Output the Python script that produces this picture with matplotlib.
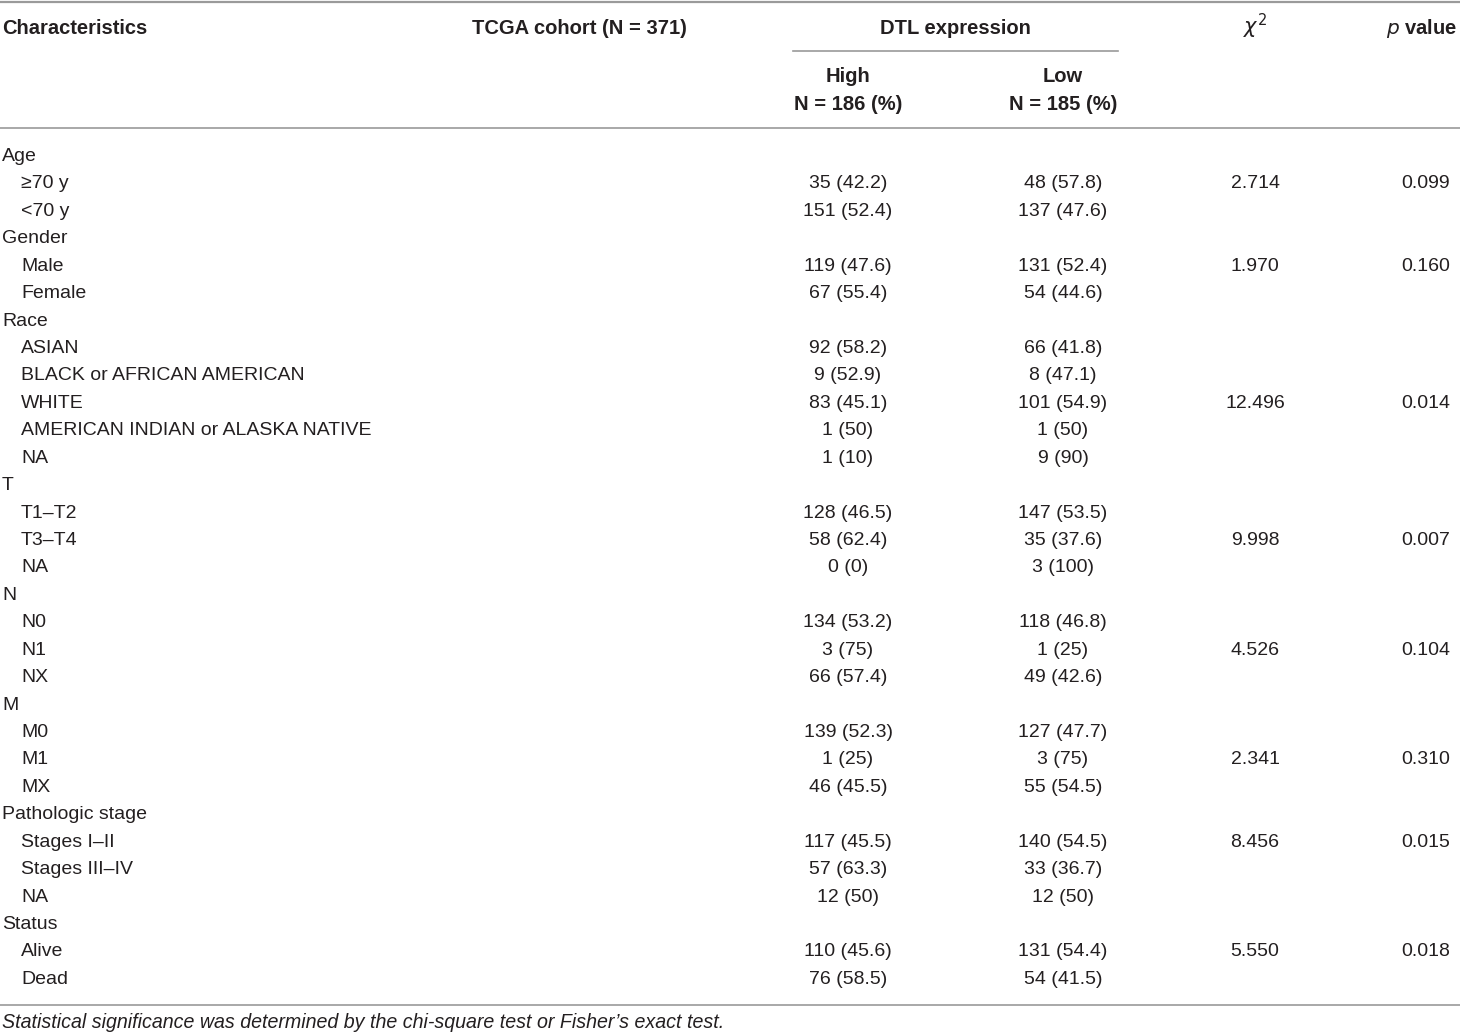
import matplotlib
matplotlib.use("Agg")
import matplotlib.pyplot as plt

# table content
groups = ["Age", "Gender", "Race", "T", "N", "M", "Pathologic stage", "Status"]
sub_labels = [
    ["\u226570 y", "<70 y"],
    ["Male", "Female"],
    ["ASIAN", "BLACK or AFRICAN AMERICAN", "WHITE", "AMERICAN INDIAN or ALASKA NATIVE", "NA"],
    ["T1\u2013T2", "T3\u2013T4", "NA"],
    ["N0", "N1", "NX"],
    ["M0", "M1", "MX"],
    ["Stages I\u2013II", "Stages III\u2013IV", "NA"],
    ["Alive", "Dead"],
]
high = [
    ["35 (42.2)", "151 (52.4)"],
    ["119 (47.6)", "67 (55.4)"],
    ["92 (58.2)", "9 (52.9)", "83 (45.1)", "1 (50)", "1 (10)"],
    ["128 (46.5)", "58 (62.4)", "0 (0)"],
    ["134 (53.2)", "3 (75)", "66 (57.4)"],
    ["139 (52.3)", "1 (25)", "46 (45.5)"],
    ["117 (45.5)", "57 (63.3)", "12 (50)"],
    ["110 (45.6)", "76 (58.5)"],
]
low = [
    ["48 (57.8)", "137 (47.6)"],
    ["131 (52.4)", "54 (44.6)"],
    ["66 (41.8)", "8 (47.1)", "101 (54.9)", "1 (50)", "9 (90)"],
    ["147 (53.5)", "35 (37.6)", "3 (100)"],
    ["118 (46.8)", "1 (25)", "49 (42.6)"],
    ["127 (47.7)", "3 (75)", "55 (54.5)"],
    ["140 (54.5)", "33 (36.7)", "12 (50)"],
    ["131 (54.4)", "54 (41.5)"],
]
chi2 = ["2.714", "1.970", "12.496", "9.998", "4.526", "2.341", "8.456", "5.550"]
pvals = ["0.099", "0.160", "0.014", "0.007", "0.104", "0.310", "0.015", "0.018"]
stat_row = [0, 0, 2, 1, 1, 1, 0, 0]   # which sub row carries the statistics

note = "Statistical significance was determined by the chi-square test or Fisher\u2019s exact test."

W, H = 1460, 1033
fig = plt.figure(figsize=(W / 100, H / 100), dpi=100)
ax = fig.add_axes([0, 0, 1, 1])
ax.set_xlim(0, W)
ax.set_ylim(H, 0)
ax.axis("off")

plt.rcParams["font.family"] = ["Liberation Sans", "DejaVu Sans"]
fs = 14
fs_hdr = 14.5
col = "#231f20"
line_col = "#9a9a9a"

x_lab, x_sub = 2, 21
x_high, x_low, x_chi, x_p = 848, 1063, 1255, 1450

# rules
ax.plot([0, W], [2, 2], color=line_col, lw=1.6)
ax.plot([793, 1118], [51, 51], color=line_col, lw=1.2)
ax.plot([0, W], [128, 128], color=line_col, lw=1.2)
ax.plot([0, W], [1005, 1005], color=line_col, lw=1.2)

# header
hdr = dict(fontsize=fs_hdr, color=col, fontweight="bold", va="center")
ax.text(x_lab, 28, "Characteristics", ha="left", **hdr)
ax.text(472, 28, "TCGA cohort (N = 371)", ha="left", **hdr)
ax.text(955, 28, "DTL expression", ha="center", **hdr)
ax.text(x_chi, 26, r"$\chi^2$", ha="center", fontsize=15, color=col, va="center")
ax.text(1457, 28, r"$\mathit{p}$" + " value", ha="right", **hdr)
ax.text(x_high, 77, "High", ha="center", **hdr)
ax.text(x_high, 104, "N = 186 (%)", ha="center", **hdr)
ax.text(x_low, 77, "Low", ha="center", **hdr)
ax.text(x_low, 104, "N = 185 (%)", ha="center", **hdr)

# body
body = dict(fontsize=fs, color=col, va="center")
y0, dy = 156.5, 27.43
r = 0
for g, subs, hs, ls, c, p, s in zip(groups, sub_labels, high, low, chi2, pvals, stat_row):
    ax.text(x_lab, y0 + r * dy, g, ha="left", **body)
    r += 1
    for i, (lab, hv, lv) in enumerate(zip(subs, hs, ls)):
        y = y0 + r * dy
        ax.text(x_sub, y, lab, ha="left", **body)
        ax.text(x_high, y, hv, ha="center", **body)
        ax.text(x_low, y, lv, ha="center", **body)
        if i == s:
            ax.text(x_chi, y, c, ha="center", **body)
            ax.text(x_p, y, p, ha="right", **body)
        r += 1

ax.text(x_lab, 1023, note, ha="left", fontstyle="italic", fontsize=14.15, color=col, va="center")

fig.savefig("out.png", dpi=100)
